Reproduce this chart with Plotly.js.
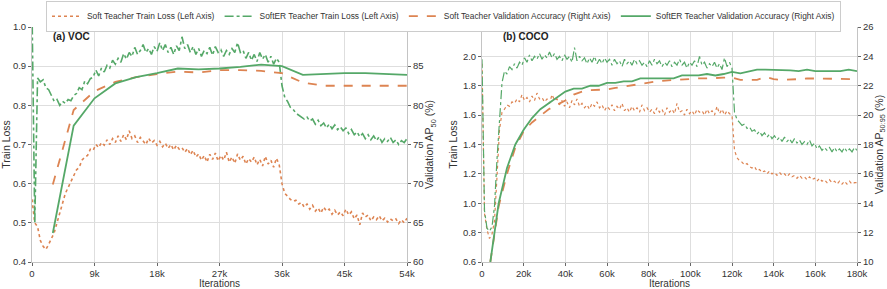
<!DOCTYPE html>
<html>
<head>
<meta charset="utf-8">
<script src="https://cdn.plot.ly/plotly-3.0.1.min.js"></script>
<style>html,body{margin:0;padding:0;background:#fff;}#chart{width:887px;height:289px;}</style>
</head>
<body>
<div id="chart"></div>
<script>
// ---------------- DATA ----------------
// VOC: training losses logged every 400 iterations (0 .. 54k)
const vocLogStep = 400;
const vocSoftTrainLoss = [0.56,0.50,0.49,0.455,0.44,0.432,0.445,0.46,0.475,0.50,0.525,0.548,0.575,0.59,0.605,0.62,0.635,0.642,0.66,0.668,
0.672,0.688,0.685,0.70,0.692,0.705,0.698,0.712,0.70,0.715,0.705,0.722,0.708,0.725,0.712,0.735,0.715,0.722,0.705,0.718,
0.71,0.70,0.716,0.704,0.71,0.698,0.708,0.694,0.703,0.69,0.70,0.686,0.698,0.688,0.692,0.68,0.69,0.674,0.685,0.668,
0.676,0.66,0.672,0.655,0.675,0.662,0.678,0.658,0.672,0.66,0.68,0.655,0.668,0.652,0.676,0.66,0.67,0.65,0.664,0.655,
0.668,0.648,0.662,0.645,0.67,0.65,0.66,0.642,0.665,0.648,0.60,0.575,0.568,0.56,0.555,0.558,0.548,0.552,0.54,0.548,
0.535,0.545,0.53,0.538,0.525,0.54,0.53,0.535,0.522,0.532,0.52,0.528,0.518,0.535,0.52,0.528,0.51,0.52,0.495,0.525,
0.515,0.52,0.505,0.515,0.508,0.518,0.505,0.512,0.502,0.51,0.505,0.51,0.498,0.508,0.50,0.512];
const vocSofterTrainLoss = [1.05,0.50,0.87,0.86,0.865,0.845,0.84,0.825,0.81,0.815,0.80,0.81,0.805,0.815,0.812,0.825,0.83,0.845,0.84,0.862,
0.855,0.868,0.872,0.89,0.875,0.895,0.885,0.902,0.895,0.915,0.905,0.92,0.91,0.932,0.918,0.935,0.925,0.948,0.93,0.94,
0.955,0.935,0.945,0.93,0.95,0.938,0.96,0.94,0.955,0.935,0.948,0.93,0.952,0.94,0.975,0.945,0.955,0.935,0.95,0.93,
0.945,0.925,0.94,0.932,0.948,0.928,0.95,0.935,0.942,0.925,0.94,0.93,0.945,0.935,0.96,0.935,0.94,0.92,0.935,0.915,
0.93,0.912,0.935,0.918,0.93,0.91,0.925,0.905,0.92,0.91,0.85,0.82,0.81,0.795,0.79,0.78,0.775,0.772,0.765,0.77,
0.76,0.765,0.752,0.762,0.748,0.755,0.742,0.752,0.74,0.75,0.738,0.745,0.735,0.742,0.728,0.738,0.725,0.732,0.72,0.728,
0.715,0.725,0.712,0.722,0.71,0.72,0.705,0.715,0.708,0.718,0.705,0.712,0.70,0.71,0.705,0.715];
// VOC: validation AP50 (%) evaluated every 3k iterations
const vocEvalIters = [3000,6000,9000,12000,15000,18000,21000,24000,27000,30000,33000,36000,39000,42000,45000,48000,51000,54000];
const vocSoftValAP = [69.9,79.4,81.8,83.0,83.6,84.0,84.3,84.2,84.5,84.5,84.4,84.1,82.9,82.5,82.5,82.5,82.5,82.5];
const vocSofterValAP = [63.7,77.4,80.9,82.8,83.6,84.1,84.7,84.6,84.7,84.9,85.2,85.0,83.9,84.0,84.1,84.1,84.0,83.9];

// COCO: training losses logged every 1200 iterations (0 .. 180k)
const cocoLogStep = 1200;
const cocoSoftTrainLoss = [1.95,0.93,0.82,0.76,0.79,0.88,1.18,1.50,1.62,1.64,1.67,1.66,1.69,1.68,1.71,1.69,1.74,1.70,1.72,1.69,
1.73,1.70,1.75,1.71,1.72,1.69,1.71,1.68,1.74,1.70,1.71,1.67,1.70,1.66,1.69,1.65,1.70,1.67,1.71,1.66,
1.68,1.65,1.67,1.64,1.68,1.66,1.69,1.65,1.67,1.63,1.66,1.64,1.67,1.63,1.66,1.64,1.68,1.63,1.65,1.62,
1.66,1.63,1.65,1.62,1.67,1.63,1.65,1.62,1.64,1.61,1.65,1.62,1.64,1.60,1.65,1.62,1.64,1.61,1.68,1.62,
1.63,1.60,1.64,1.61,1.63,1.60,1.64,1.62,1.63,1.60,1.64,1.61,1.63,1.60,1.66,1.61,1.64,1.60,1.63,1.61,
1.60,1.36,1.31,1.29,1.28,1.26,1.27,1.25,1.24,1.25,1.22,1.23,1.21,1.22,1.20,1.22,1.20,1.21,1.19,1.21,
1.19,1.20,1.18,1.20,1.18,1.19,1.17,1.19,1.17,1.18,1.16,1.18,1.16,1.17,1.15,1.17,1.15,1.16,1.14,1.16,
1.14,1.15,1.13,1.15,1.13,1.15,1.13,1.15,1.13,1.14,1.14];
const cocoSofterTrainLoss = [1.98,0.95,0.83,0.81,0.84,0.98,1.30,1.60,1.82,1.90,1.88,1.93,1.91,1.95,1.92,1.96,1.94,1.99,1.96,2.01,
1.97,2.00,1.98,2.02,1.98,2.01,1.99,2.03,1.99,2.02,1.98,2.00,1.97,2.01,1.98,2.00,1.96,2.06,1.97,2.00,
1.97,1.99,1.95,1.99,1.96,2.00,1.95,1.98,1.95,1.99,1.96,1.98,1.94,1.98,1.95,1.97,1.93,1.98,1.95,1.97,
1.94,1.98,1.95,1.97,1.94,1.96,1.93,1.97,1.94,1.98,1.95,1.97,1.93,1.96,1.94,1.97,1.93,1.96,1.94,1.98,
1.94,1.96,1.92,1.96,1.94,1.97,1.93,2.00,1.94,1.96,1.92,1.95,1.93,1.96,1.92,1.95,1.91,1.99,1.93,1.96,
1.92,1.62,1.57,1.55,1.53,1.54,1.51,1.52,1.49,1.50,1.47,1.49,1.46,1.48,1.45,1.47,1.44,1.46,1.43,1.45,
1.42,1.45,1.42,1.44,1.41,1.44,1.41,1.43,1.40,1.42,1.40,1.43,1.39,1.41,1.37,1.39,1.36,1.38,1.36,1.38,
1.35,1.38,1.35,1.37,1.35,1.38,1.35,1.37,1.35,1.38,1.36];
// COCO: validation AP50:95 (%) evaluated every 4k iterations
const cocoEvalIters = [4000,8000,12000,16000,20000,24000,28000,32000,36000,40000,44000,48000,52000,56000,60000,64000,68000,72000,76000,80000,
84000,88000,92000,96000,100000,104000,108000,112000,116000,120000,124000,128000,132000,136000,140000,144000,148000,152000,156000,160000,
164000,168000,172000,176000,180000];
const cocoSoftValAP = [10.0,13.8,16.0,17.8,18.9,19.5,19.95,20.4,20.7,21.0,21.4,21.6,21.7,21.7,21.75,21.85,21.95,22.05,22.15,22.2,
22.3,22.35,22.4,22.45,22.5,22.5,22.5,22.55,22.55,22.55,22.4,22.4,22.4,22.6,22.45,22.4,22.4,22.45,22.5,22.5,
22.45,22.45,22.45,22.45,22.45];
const cocoSofterValAP = [10.0,14.0,16.4,18.0,19.0,19.8,20.4,20.8,21.2,21.6,21.8,21.8,22.0,22.0,22.2,22.2,22.3,22.3,22.5,22.5,
22.5,22.5,22.5,22.7,22.7,22.7,22.8,22.7,22.8,22.95,22.85,23.0,23.1,23.1,23.1,23.1,23.05,23.0,23.1,23.0,
23.0,23.0,23.0,23.1,23.0];

const seriesNames = ["Soft Teacher Train Loss (Left Axis)", "SoftER Teacher Train Loss (Left Axis)",
                     "Soft Teacher Validation Accuracy (Right Axis)", "SoftER Teacher Validation Accuracy (Right Axis)"];
const panelLabels = ["<b>(a) VOC</b>", "<b>(b) COCO</b>"];
const vocTickVals = [0,9000,18000,27000,36000,45000,54000];
const vocTickText = ["0","9k","18k","27k","36k","45k","54k"];
const cocoTickVals = [0,20000,40000,60000,80000,100000,120000,140000,160000,180000];
const cocoTickText = ["0","20k","40k","60k","80k","100k","120k","140k","160k","180k"];

// ---------------- CHART ----------------
const iters = (n, step) => Array.from({length: n}, (_, i) => i * step);
const ORANGE = "#dd8452", GREEN = "#55a868";
const vocX = iters(vocSoftTrainLoss.length, vocLogStep);
const cocoX = iters(cocoSoftTrainLoss.length, cocoLogStep);

const traces = [
  {x: vocX, y: vocSoftTrainLoss, xaxis: "x", yaxis: "y", name: seriesNames[0], mode: "lines",
   line: {color: ORANGE, width: 1.6, dash: "dot"}},
  {x: vocX, y: vocSofterTrainLoss, xaxis: "x", yaxis: "y", name: seriesNames[1], mode: "lines",
   line: {color: GREEN, width: 1.6, dash: "dashdot"}},
  {x: vocEvalIters, y: vocSoftValAP, xaxis: "x", yaxis: "y2", name: seriesNames[2], mode: "lines",
   line: {color: ORANGE, width: 1.8, dash: "dash"}},
  {x: vocEvalIters, y: vocSofterValAP, xaxis: "x", yaxis: "y2", name: seriesNames[3], mode: "lines",
   line: {color: GREEN, width: 1.8}},
  {x: cocoX, y: cocoSoftTrainLoss, xaxis: "x2", yaxis: "y3", name: seriesNames[0], mode: "lines", showlegend: false,
   line: {color: ORANGE, width: 1.2, dash: "dot"}},
  {x: cocoX, y: cocoSofterTrainLoss, xaxis: "x2", yaxis: "y3", name: seriesNames[1], mode: "lines", showlegend: false,
   line: {color: GREEN, width: 1.2, dash: "dashdot"}},
  {x: cocoEvalIters, y: cocoSoftValAP, xaxis: "x2", yaxis: "y4", name: seriesNames[2], mode: "lines", showlegend: false,
   line: {color: ORANGE, width: 1.8, dash: "dash"}},
  {x: cocoEvalIters, y: cocoSofterValAP, xaxis: "x2", yaxis: "y4", name: seriesNames[3], mode: "lines", showlegend: false,
   line: {color: GREEN, width: 1.8}}
];

const FONT = "Liberation Sans, Arial, sans-serif";
const TXT = "#333333";
const baseAxis = {
  showline: true, linecolor: "#c4c4c4", linewidth: 1, mirror: false,
  ticks: "outside", ticklen: 3, tickcolor: "#666", tickwidth: 1,
  tickfont: {family: FONT, size: 9.5, color: TXT},
  zeroline: false, automargin: false
};
const titleFont = {family: FONT, size: 10.5, color: TXT};
const xTitleFont = {family: FONT, size: 10, color: TXT};

const layout = {
  width: 887, height: 289,
  margin: {l: 0, r: 0, t: 27, b: 27},
  paper_bgcolor: "#fff", plot_bgcolor: "#fff",
  font: {family: FONT, color: TXT},
  showlegend: true,
  legend: {orientation: "h", x: 0.5, xanchor: "center", y: 1.112, yanchor: "top",
           bordercolor: "#cccccc", borderwidth: 1, bgcolor: "#fff",
           font: {family: FONT, size: 8.4, color: TXT}, itemwidth: 30, traceorder: "normal"},
  xaxis: Object.assign({}, baseAxis, {domain: [32/887, 407/887], anchor: "y", range: [0, 54000],
    tickvals: vocTickVals, ticktext: vocTickText, showgrid: true, gridcolor: "#dedede",
    title: {text: "Iterations", font: xTitleFont, standoff: 3}}),
  yaxis: Object.assign({}, baseAxis, {domain: [0, 1], anchor: "x", range: [0.4, 1.0], dtick: 0.1, tick0: 0.4,
    tickformat: ".1f", showgrid: true, gridcolor: "#dedede",
    title: {text: "Train Loss", font: titleFont, standoff: 3}}),
  yaxis2: Object.assign({}, baseAxis, {overlaying: "y", anchor: "x", side: "right", range: [60, 90], dtick: 5, tick0: 60,
    showgrid: false,
    title: {text: "Validation AP<sub>50</sub> (%)", font: titleFont, standoff: 3}}),
  xaxis2: Object.assign({}, baseAxis, {domain: [482/887, 857/887], anchor: "y3", range: [0, 180000],
    tickvals: cocoTickVals, ticktext: cocoTickText, showgrid: true, gridcolor: "#dedede",
    title: {text: "Iterations", font: xTitleFont, standoff: 3}}),
  yaxis3: Object.assign({}, baseAxis, {domain: [0, 1], anchor: "x2", range: [0.6, 2.2], dtick: 0.2, tick0: 0.6,
    tickformat: ".1f", showgrid: true, gridcolor: "#dedede",
    title: {text: "Train Loss", font: titleFont, standoff: 3}}),
  yaxis4: Object.assign({}, baseAxis, {overlaying: "y3", anchor: "x2", side: "right", range: [10, 26], dtick: 2, tick0: 10,
    showgrid: false,
    title: {text: "Validation AP<sub>50:95</sub> (%)", font: titleFont, standoff: 3}}),
  annotations: [
    {text: panelLabels[0], xref: "x domain", yref: "y domain", x: 0.05, y: 0.96, xanchor: "left", yanchor: "middle",
     showarrow: false, font: {family: FONT, size: 10, color: "#222"}},
    {text: panelLabels[1], xref: "x2 domain", yref: "y3 domain", x: 0.05, y: 0.96, xanchor: "left", yanchor: "middle",
     showarrow: false, font: {family: FONT, size: 10, color: "#222"}}
  ]
};

Plotly.newPlot("chart", traces, layout, {displayModeBar: false, staticPlot: true});
</script>
</body>
</html>
